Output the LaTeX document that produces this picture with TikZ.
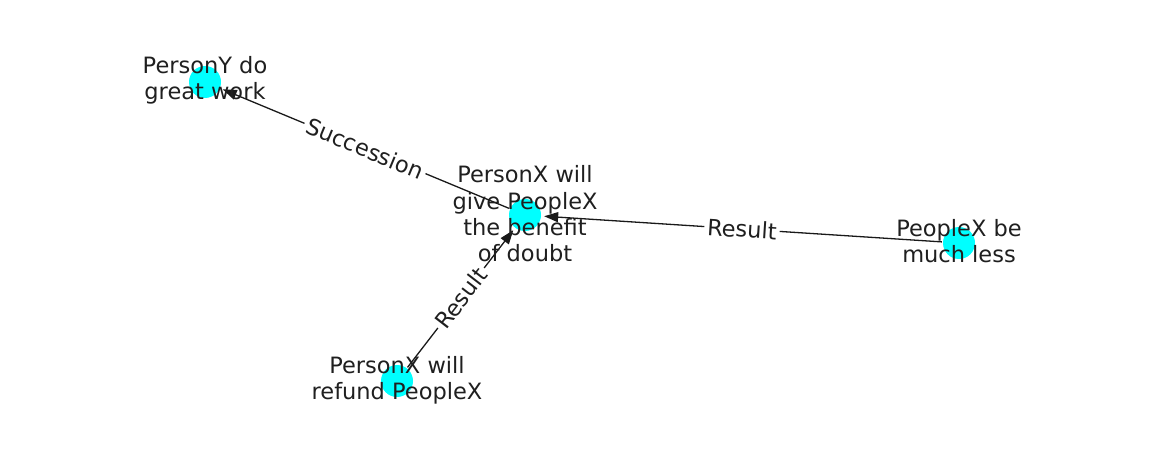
\documentclass[tikz,border=0pt]{standalone}
\usepackage{fontspec}
\setmainfont{DejaVu Sans}
\usetikzlibrary{arrows.meta}
\definecolor{nodecyan}{RGB}{0,255,255}
\begin{document}
\begin{tikzpicture}[x=1pt,y=-1pt,
  vert/.style={circle, fill=nodecyan, inner sep=0pt, minimum size=32pt},
  lbl/.style={font=\fontsize{22.5}{26.4}\selectfont, align=center, text=black!88, inner sep=0pt},
  edge/.style={-{Triangle[length=14pt,width=10pt]}, line width=1.3pt, draw=black!90, shorten >=3pt, shorten <=1pt},
  elbl/.style={font=\fontsize{22.5}{26.4}\selectfont, fill=white, text=black!88, inner sep=3pt, sloped, midway}]
\useasboundingbox (0,0) rectangle (1162,462);
% vertices
\node[vert] (y) at (205,82) {};
\node[vert] (c) at (525,215) {};
\node[vert] (p) at (959,243) {};
\node[vert] (r) at (397,381) {};
% edges
\draw[edge] (c) -- node[elbl] {Succession} (y);
\draw[edge] (p) -- node[elbl] {Result} (c);
\draw[edge] (r) -- node[elbl] {Result} (c);
% labels
\node[lbl] (ty) at (205,80) {PersonY do\\great work};
\node[lbl] (tc) at (525,214) {PersonX will\\give PeopleX\\the benefit\\of doubt};
\node[lbl] (tp) at (959,241) {PeopleX be\\much less};
\node[lbl] (tr) at (397,380) {PersonX will\\refund PeopleX};
\end{tikzpicture}
\end{document}
